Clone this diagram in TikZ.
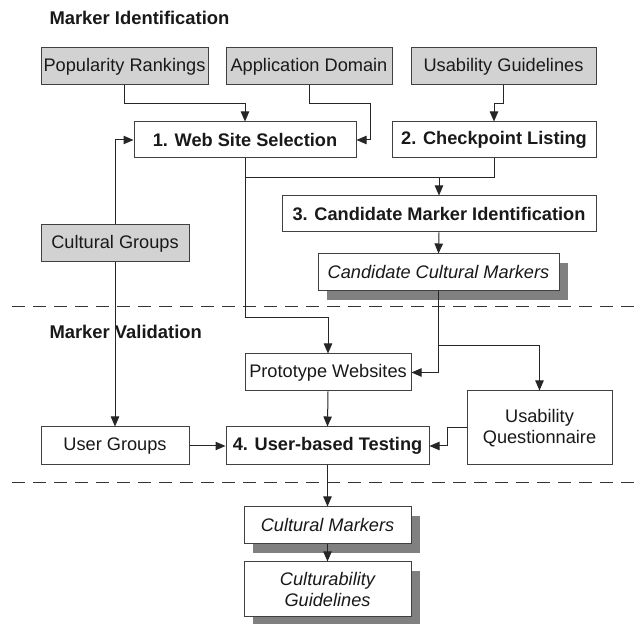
\documentclass[tikz,border=0pt]{standalone}
\usepackage{fontspec}
\setmainfont{Liberation Sans}
\usepackage{tikz}
\usetikzlibrary{arrows.meta, shadows}

\begin{document}
\begin{tikzpicture}[
  x=0.5pt, y=-0.5pt,
  every node/.style={font=\fontsize{9.1}{10.5}\selectfont, text=black!90},
  box/.style={draw=black!75, fill=white, rectangle, inner sep=0pt, minimum height=18.5pt, align=center},
  source/.style={box, fill=gray!35},
  step box/.style={box, font=\fontsize{9.1}{10.5}\selectfont\bfseries},
  result/.style={box, font=\fontsize{9.1}{10.5}\selectfont\itshape,
    drop shadow={shadow xshift=4.5pt, shadow yshift=-4.5pt, fill=black!50, opacity=1}},
  title/.style={anchor=west, inner sep=0pt, font=\fontsize{9.2}{10.5}\selectfont\bfseries},
  arr/.style={-{Triangle[length=5pt, width=4.2pt]}},
  line width=0.5pt, draw=black!85
]
\useasboundingbox (0,0) rectangle (639,624);

% Nodes
\node[title] (identtitle) at (49,18) {Marker Identification};
\node[source, minimum width=83.5pt] (popularity) at (124.5,66.5) {Popularity Rankings};
\node[source, minimum width=83pt] (domain) at (309,66.5) {Application Domain};
\node[source, minimum width=92.5pt] (guidelines) at (503.5,66.5) {Usability Guidelines};
\node[step box, minimum width=111pt, minimum height=18pt] (selection) at (245,140) {1. Web Site Selection};
\node[step box, minimum width=102pt, minimum height=18pt] (checkpoint) at (494,140) {2. Checkpoint Listing};
\node[step box, minimum width=157pt, minimum height=18pt] (candident) at (439,214) {3. Candidate Marker Identification};
\node[result, minimum width=120.5pt] (candmarkers) at (438.5,272.5) {Candidate Cultural Markers};
\node[source, minimum width=74pt] (cultgroups) at (115,243.5) {Cultural Groups};

\node[title] (validtitle) at (49,332) {Marker Validation};
\node[box, minimum width=83pt] (prototype) at (328,372.5) {Prototype Websites};
\node[box, minimum width=72.5pt, minimum height=37pt] (questionnaire) at (539.5,428) {Usability\\Questionnaire};
\node[box, minimum width=74pt, minimum height=19pt] (usergroups) at (115,446) {User Groups};
\node[step box, minimum width=101.5pt, minimum height=19pt] (testing) at (327.5,446) {4. User-based Testing};

\node[result, minimum width=83.5pt] (markers) at (327.5,525.5) {Cultural Markers};
\node[result, minimum width=83.5pt, minimum height=27.5pt] (culturability) at (327.5,589.5) {Culturability\\Guidelines};

% Separators
\draw[dashed, dash pattern=on 6.5pt off 4pt, black!80] (12,307) -- (639,307);
\draw[dashed, dash pattern=on 6.5pt off 4pt, black!80] (12,483) -- (639,483);

% Arrows
\draw[arr] (popularity.south) -- ++(0,18) -| (selection.north);
\draw[arr] (domain.south) -- ++(0,18) -| ([xshift=7pt]selection.east) -- (selection.east);
\draw[arr] (guidelines.south) -- ++(0,18) -| (checkpoint.north);
\draw[arr] (cultgroups.north) |- (selection.west);
\draw[arr] (cultgroups.south) -- (usergroups.north);

\draw (selection.south) -- ++(0,19) coordinate (merge) -| (checkpoint.south);
\draw[arr] (merge -| candident.north) -- (candident.north);
\draw[arr] (selection.south) -- ++(0,159) -| (prototype.north);
\draw[arr] (candident.south) -- (candmarkers.north);

\draw[arr] (candmarkers.south) |- (prototype.east);
\draw[arr] (candmarkers.south) -- ++(0,54) -| (questionnaire.north);
\draw[arr] (prototype.south) -- (testing.north);
\draw[arr] (questionnaire.west) -- ++(-19,0) |- (testing.east);
\draw[arr] (usergroups.east) -- (testing.west);

\draw[arr] (testing.south) -- (markers.north);
\draw[arr] (markers.south) -- (culturability.north);
\end{tikzpicture}
\end{document}
